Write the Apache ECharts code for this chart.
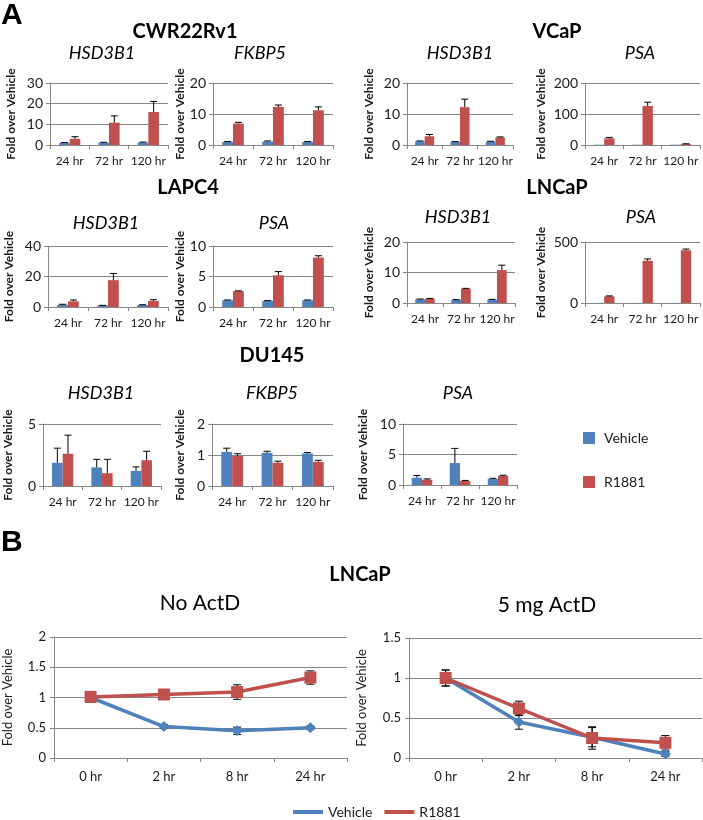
<!DOCTYPE html>
<html><head><meta charset="utf-8">
<script src="https://cdn.jsdelivr.net/npm/echarts@6/dist/echarts.min.js"></script>
<style>html,body{margin:0;padding:0;background:#fff}#c{width:703px;height:820px}</style>
</head><body><div id="c"></div>
<script>
// ---------- data ----------
const hours = ['24 hr', '72 hr', '120 hr'];
const times = ['0 hr', '2 hr', '8 hr', '24 hr'];
const seriesNames = ['Vehicle', 'R1881'];

const cwrHsdVeh = [1.0, 1.1, 1.2];   const cwrHsdVehErr = [0.2, 0.2, 0.2];
const cwrHsdR   = [3.0, 10.8, 16.0]; const cwrHsdRErr   = [1.0, 3.3, 5.1];
const cwrFkbVeh = [1.0, 1.1, 1.0];   const cwrFkbVehErr = [0.1, 0.2, 0.1];
const cwrFkbR   = [6.9, 12.3, 11.2]; const cwrFkbRErr   = [0.4, 0.6, 1.1];
const vcapHsdVeh = [1.2, 1.0, 1.1];  const vcapHsdVehErr = [0.1, 0.1, 0.1];
const vcapHsdR   = [2.8, 12.2, 2.4]; const vcapHsdRErr   = [0.6, 2.6, 0.2];
const vcapPsaVeh = [1, 1, 1];        const vcapPsaVehErr = [0, 0, 0];
const vcapPsaR   = [21.5, 126, 3];   const vcapPsaRErr   = [3, 12, 1];
const lapcHsdVeh = [1.5, 1.0, 1.3];  const lapcHsdVehErr = [0.3, 0.1, 0.2];
const lapcHsdR   = [3.7, 17.6, 4.0]; const lapcHsdRErr   = [0.9, 4.4, 0.8];
const lapcPsaVeh = [1.1, 1.0, 1.1];  const lapcPsaVehErr = [0.05, 0.05, 0.05];
const lapcPsaR   = [2.6, 5.2, 8.1];  const lapcPsaRErr   = [0.05, 0.6, 0.3];
const lncHsdVeh = [1.2, 1.0, 1.1];   const lncHsdVehErr = [0.1, 0.1, 0.1];
const lncHsdR   = [1.4, 4.7, 10.8];  const lncHsdRErr   = [0.1, 0.1, 1.6];
const lncPsaVeh = [1, 1, 1];         const lncPsaVehErr = [0, 0, 0];
const lncPsaR   = [54, 346, 432];    const lncPsaRErr   = [4, 15, 10];
const duHsdVeh = [1.87, 1.5, 1.22];  const duHsdVehErr = [1.18, 0.65, 0.32];
const duHsdR   = [2.6, 1.03, 2.08];  const duHsdRErr   = [1.5, 1.12, 0.72];
const duFkbVeh = [1.1, 1.07, 1.05];  const duFkbVehErr = [0.12, 0.05, 0.03];
const duFkbR   = [0.97, 0.75, 0.78]; const duFkbRErr   = [0.07, 0.05, 0.05];
const duPsaVeh = [1.2, 3.6, 1.0];    const duPsaVehErr = [0.35, 2.4, 0.1];
const duPsaR   = [0.87, 0.65, 1.5];  const duPsaRErr   = [0.13, 0.1, 0.1];

const noActVeh = [1.0, 0.52, 0.45, 0.50]; const noActVehErr = [0.08, 0.03, 0.06, 0.03];
const noActR   = [1.01, 1.05, 1.09, 1.33]; const noActRErr  = [0.08, 0.03, 0.12, 0.11];
const actVeh = [1.0, 0.45, 0.26, 0.05];   const actVehErr = [0.1, 0.09, 0.12, 0.03];
const actR   = [1.0, 0.62, 0.25, 0.19];   const actRErr   = [0.1, 0.09, 0.14, 0.09];

// ---------- styling ----------
const BLUE = '#4F81BD', RED = '#C0504D', GRID = '#878787', TXT = '#1a1a1a';
const FONT = 'Lato';
const option = { animation: false, grid: [], xAxis: [], yAxis: [], series: [], graphic: [], legend: [] };

function errRender(offFrac, both, capW) {
  return function (params, api) {
    const cat = api.value(0), v = api.value(1), e = api.value(2);
    if (!e) return null;
    const band = api.size([1, 0])[0];
    const c = api.coord([cat, v]);
    const x = c[0] + offFrac * band;
    const top = api.coord([cat, v + e])[1];
    const bot = both ? api.coord([cat, v - e])[1] : c[1];
    const st = { stroke: '#000', lineWidth: 1 };
    const ch = [
      { type: 'line', shape: { x1: x, y1: bot, x2: x, y2: top }, style: st },
      { type: 'line', shape: { x1: x - capW / 2, y1: top, x2: x + capW / 2, y2: top }, style: st }
    ];
    if (both) ch.push({ type: 'line', shape: { x1: x - capW / 2, y1: bot, x2: x + capW / 2, y2: bot }, style: st });
    return { type: 'group', children: ch };
  };
}
function errData(vals, errs) { return vals.map((v, i) => [i, v, errs[i]]); }

function axisCommon(i) {
  return {
    gridIndex: i,
    axisLine: { show: true, lineStyle: { color: GRID, width: 1 } },
    axisTick: { show: true, length: 4, lineStyle: { color: GRID } }
  };
}

function addBarPanel(p) {
  const i = option.grid.length;
  option.grid.push({ left: p.l, top: p.t, width: p.w, height: p.h, containLabel: false });
  option.xAxis.push(Object.assign(axisCommon(i), {
    type: 'category', data: hours,
    axisLabel: { color: TXT, fontSize: 12, fontFamily: FONT, margin: 10, interval: 0, hideOverlap: false }
  }));
  option.yAxis.push(Object.assign(axisCommon(i), {
    type: 'value', min: 0, max: p.max, interval: p.int,
    splitLine: { show: true, lineStyle: { color: GRID, width: 1 } },
    axisLabel: { color: TXT, fontSize: 14, fontFamily: FONT, margin: 7 },
    name: 'Fold over Vehicle', nameLocation: 'middle', nameRotate: 90, nameGap: p.ng,
    nameTextStyle: { fontWeight: 'bold', fontSize: 12, fontFamily: FONT, color: TXT }
  }));
  const common = { type: 'bar', xAxisIndex: i, yAxisIndex: i, barGap: '0%', barCategoryGap: '46%' };
  option.series.push(Object.assign({ name: seriesNames[0], data: p.veh, itemStyle: { color: BLUE } }, common));
  option.series.push(Object.assign({ name: seriesNames[1], data: p.r, itemStyle: { color: RED } }, common));
  option.series.push({ type: 'custom', xAxisIndex: i, yAxisIndex: i, z: 5, encode: { x: 0, y: 1 },
    renderItem: errRender(-0.135, false, 7), data: errData(p.veh, p.vehErr) });
  option.series.push({ type: 'custom', xAxisIndex: i, yAxisIndex: i, z: 5, encode: { x: 0, y: 1 },
    renderItem: errRender(0.135, false, 7), data: errData(p.r, p.rErr) });
}

function addLinePanel(p) {
  const i = option.grid.length;
  option.grid.push({ left: p.l, top: p.t, width: p.w, height: p.h, containLabel: false });
  option.xAxis.push(Object.assign(axisCommon(i), {
    type: 'category', data: times,
    axisLabel: { color: TXT, fontSize: 13, fontFamily: FONT, margin: 12, interval: 0 }
  }));
  option.yAxis.push(Object.assign(axisCommon(i), {
    type: 'value', min: 0, max: p.max, interval: 0.5,
    splitLine: { show: true, lineStyle: { color: GRID, width: 1 } },
    axisLabel: { color: TXT, fontSize: 13, fontFamily: FONT, margin: 8 },
    name: 'Fold over Vehicle', nameLocation: 'middle', nameRotate: 90, nameGap: p.ng,
    nameTextStyle: { fontSize: 13, fontFamily: FONT, color: TXT }
  }));
  option.series.push({ type: 'custom', xAxisIndex: i, yAxisIndex: i, z: 1, encode: { x: 0, y: 1 },
    renderItem: errRender(0, true, 8), data: errData(p.veh, p.vehErr) });
  option.series.push({ type: 'custom', xAxisIndex: i, yAxisIndex: i, z: 1, encode: { x: 0, y: 1 },
    renderItem: errRender(0, true, 8), data: errData(p.r, p.rErr) });
  option.series.push({ type: 'line', name: seriesNames[0], xAxisIndex: i, yAxisIndex: i, data: p.veh,
    symbol: 'diamond', symbolSize: 11, lineStyle: { color: BLUE, width: 3.5 }, itemStyle: { color: BLUE }, z: 3 });
  option.series.push({ type: 'line', name: seriesNames[1], xAxisIndex: i, yAxisIndex: i, data: p.r,
    symbol: 'rect', symbolSize: 12, lineStyle: { color: RED, width: 3.5 }, itemStyle: { color: RED }, z: 4 });
}

// Panel A
addBarPanel({ l: 50, t: 83, w: 118, h: 62, max: 30, int: 10, ng: 33, veh: cwrHsdVeh, vehErr: cwrHsdVehErr, r: cwrHsdR, rErr: cwrHsdRErr });
addBarPanel({ l: 213, t: 83, w: 120, h: 62, max: 20, int: 10, ng: 22, veh: cwrFkbVeh, vehErr: cwrFkbVehErr, r: cwrFkbR, rErr: cwrFkbRErr });
addBarPanel({ l: 407, t: 83, w: 106, h: 62, max: 20, int: 10, ng: 32, veh: vcapHsdVeh, vehErr: vcapHsdVehErr, r: vcapHsdR, rErr: vcapHsdRErr });
addBarPanel({ l: 585, t: 83, w: 115, h: 62, max: 200, int: 100, ng: 38, veh: vcapPsaVeh, vehErr: vcapPsaVehErr, r: vcapPsaR, rErr: vcapPsaRErr });
addBarPanel({ l: 48, t: 246, w: 120, h: 61, max: 40, int: 20, ng: 33, veh: lapcHsdVeh, vehErr: lapcHsdVehErr, r: lapcHsdR, rErr: lapcHsdRErr });
addBarPanel({ l: 213, t: 246, w: 120, h: 61, max: 10, int: 5, ng: 21, veh: lapcPsaVeh, vehErr: lapcPsaVehErr, r: lapcPsaR, rErr: lapcPsaRErr });
addBarPanel({ l: 407, t: 242, w: 108, h: 61, max: 20, int: 10, ng: 32, veh: lncHsdVeh, vehErr: lncHsdVehErr, r: lncHsdR, rErr: lncHsdRErr });
addBarPanel({ l: 585, t: 242, w: 115, h: 61, max: 500, int: 500, ng: 38, veh: lncPsaVeh, vehErr: lncPsaVehErr, r: lncPsaR, rErr: lncPsaRErr });
addBarPanel({ l: 43, t: 424, w: 118, h: 62, max: 5, int: 5, ng: 29, veh: duHsdVeh, vehErr: duHsdVehErr, r: duHsdR, rErr: duHsdRErr });
addBarPanel({ l: 212, t: 424, w: 121, h: 62, max: 2, int: 1, ng: 26, veh: duFkbVeh, vehErr: duFkbVehErr, r: duFkbR, rErr: duFkbRErr });
addBarPanel({ l: 403, t: 424, w: 114, h: 61, max: 10, int: 5, ng: 34, veh: duPsaVeh, vehErr: duPsaVehErr, r: duPsaR, rErr: duPsaRErr });
// Panel B
addLinePanel({ l: 53, t: 637, w: 294, h: 121, max: 2, ng: 40, veh: noActVeh, vehErr: noActVehErr, r: noActR, rErr: noActRErr });
addLinePanel({ l: 409, t: 638, w: 293, h: 120, max: 1.5, ng: 41, veh: actVeh, vehErr: actVehErr, r: actR, rErr: actRErr });

// Titles
function txt(x, y, text, font, align) {
  option.graphic.push({ type: 'text', x: x, y: y, silent: true,
    style: { text: text, font: font, fill: '#000', align: align || 'center', verticalAlign: 'middle' } });
}
const boldT = 'bold 20px Lato', itT = 'italic 18px Lato';
txt(1, 16, 'A', 'bold 30px "Liberation Sans"', 'left');
txt(185, 32, 'CWR22Rv1', boldT);
txt(557, 32, 'VCaP', boldT);
txt(102, 53, 'HSD3B1', itT); txt(260, 53, 'FKBP5', itT);
txt(460, 53, 'HSD3B1', itT); txt(640, 53, 'PSA', itT);
txt(188, 188, 'LAPC4', boldT); txt(557, 188, 'LNCaP', boldT);
txt(106, 223, 'HSD3B1', itT); txt(274, 223, 'PSA', itT);
txt(458, 217, 'HSD3B1', itT); txt(641, 217, 'PSA', itT);
txt(272, 356, 'DU145', boldT);
txt(101, 393, 'HSD3B1', itT); txt(272, 393, 'FKBP5', itT); txt(458, 393, 'PSA', itT);
txt(1, 543, 'B', 'bold 30px "Liberation Sans"', 'left');
txt(360, 575, 'LNCaP', boldT);
txt(200, 603, 'No ActD', '21px Lato');
txt(547, 605, '5 mg ActD', '21px Lato');

// Legends
option.legend.push({ left: 578, top: 426, orient: 'vertical', itemWidth: 12, itemHeight: 12, itemGap: 30,
  icon: 'rect', data: seriesNames, selectedMode: false,
  textStyle: { fontSize: 14, fontFamily: FONT, color: TXT, padding: [0, 0, 0, 4] } });
option.legend.push({ left: 288, top: 800, orient: 'horizontal', itemWidth: 30, itemHeight: 4, itemGap: 12,
  icon: 'rect', data: seriesNames, selectedMode: false,
  textStyle: { fontSize: 14, fontFamily: FONT, color: TXT } });

const chart = echarts.init(document.getElementById('c'), null, { renderer: 'canvas' });
chart.setOption(option);
</script></body></html>
